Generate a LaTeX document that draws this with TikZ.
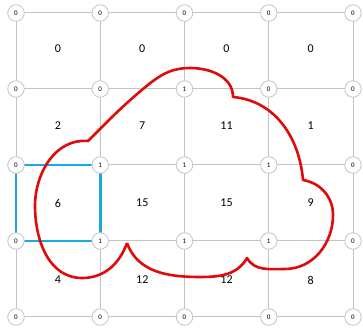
\documentclass[tikz,border=0pt]{standalone}
\usepackage{fontspec}
\setmainfont{Carlito}
\usetikzlibrary{positioning}
\definecolor{gridgray}{HTML}{C4C4C4}
\definecolor{cellblue}{HTML}{1BA9E1}
\definecolor{contred}{HTML}{E00A0A}
\tikzset{
  vert/.style={circle,draw=gridgray,fill=white,line width=0.8pt,minimum size=16.5pt,inner sep=0pt,font=\fontsize{7}{7}\selectfont},
  cellval/.style={font=\fontsize{12}{12}\selectfont},
  gridline/.style={gridgray,line width=1pt}
}
\begin{document}
\begin{tikzpicture}[x=1pt,y=1pt]
\useasboundingbox[fill=white] (0,0) rectangle (363,331);
% grid lines
\foreach \i in {0,...,4}{
  \draw[gridline] (16+84.25*\i,14)--(16+84.25*\i,318);
  \draw[gridline] (16,14+76*\i)--(353,14+76*\i);
}
% highlighted cell
\draw[cellblue,line width=2.5pt] (16,90) rectangle (100.25,166);
% vertex values, rows from the top
\foreach \row/\vals in {0/{0,0,0,0,0},1/{0,0,1,0,0},2/{0,1,1,1,0},3/{0,1,1,1,0},4/{0,0,0,0,0}}{
  \foreach \v [count=\c from 0] in \vals{
    \node[vert] (v-\row-\c) at (16+84.25*\c,318-76*\row) {\v};
  }
}
% cell values
\foreach \row/\vals in {0/{0,0,0,0},1/{2,7,11,1},2/{6,15,15,9},3/{4,12,12,8}}{
  \foreach \v [count=\c from 0] in \vals{
    \node[cellval] (c-\row-\c) at (58+84.25*\c,282-77*\row) {\v};
  }
}
% contour
\draw[contred,line width=2.6pt,line join=round]
  (127,88) to[out=-110,in=0] (82,53) to[out=180,in=-90] (35,125)
  to[out=90,in=175] (88,190)
  to[out=45,in=-140] (143,242) to[out=40,in=180] (190,263) to[out=0,in=90] (233,234)
  to[out=-5,in=95] (303,151)
  to[out=-10,in=90] (333,116) to[out=-90,in=0] (285,62) to[out=180,in=-60] (247,73)
  to[out=-120,in=0] (200,54) to[out=180,in=-70] (127,88);
\end{tikzpicture}
\end{document}
